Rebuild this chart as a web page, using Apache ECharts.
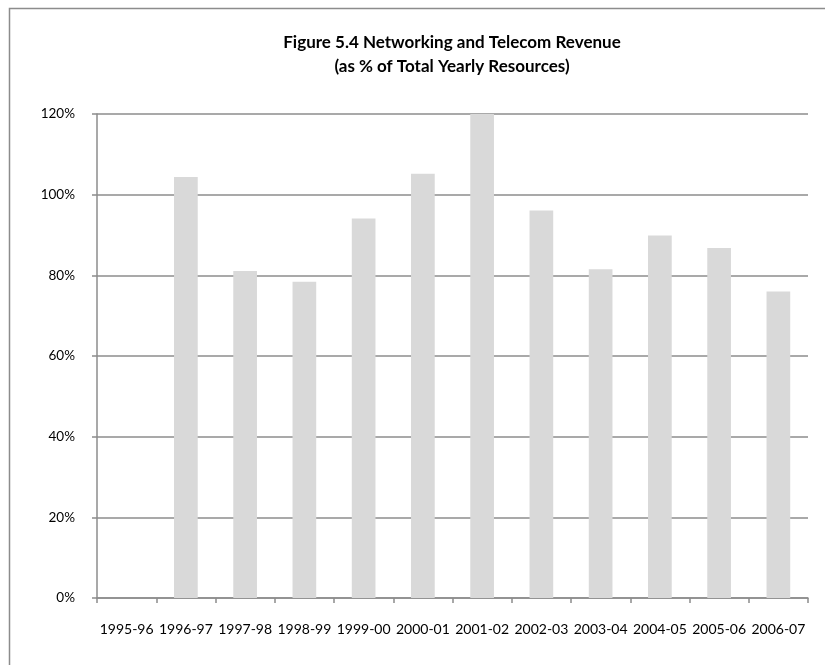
<!DOCTYPE html>
<html>
<head>
<meta charset="utf-8">
<style>
  html, body { margin: 0; padding: 0; background: #ffffff; }
  #chart { width: 825px; height: 665px; }
</style>
<script src="https://cdn.jsdelivr.net/npm/echarts@6/dist/echarts.min.js"></script>
</head>
<body>
<div id="chart"></div>
<script>
// Fiscal years shown on the category axis
const years = ['1995-96', '1996-97', '1997-98', '1998-99', '1999-00', '2000-01',
               '2001-02', '2002-03', '2003-04', '2004-05', '2005-06', '2006-07'];
// Networking and telecom revenue, percent of total yearly resources
const revenuePct = [null, 104.4, 81.1, 78.4, 94.1, 105.2, 120.0, 96.1, 81.5, 89.9, 86.8, 76.0];
// Value axis range and step (percent)
const yMin = 0, yMax = 120, yStep = 20;

const font = 'Lato, "Open Sans", "DejaVu Sans", sans-serif';
const chart = echarts.init(document.getElementById('chart'), null, { renderer: 'canvas' });

chart.setOption({
  animation: false,
  backgroundColor: '#ffffff',
  graphic: [{
    type: 'rect', silent: true,
    shape: { x: 9.5, y: 8.5, width: 830, height: 670 },
    style: { fill: 'none', stroke: '#8c8c8c', lineWidth: 1.5 }
  }, {
    // two-line chart title, centred over the plot
    type: 'text', silent: true,
    x: 452, y: 31,
    style: {
      text: 'Figure 5.4 Networking and Telecom Revenue\n(as % of Total Yearly Resources)',
      align: 'center', verticalAlign: 'top',
      font: 'bold 17px ' + font, lineHeight: 24, fill: '#000'
    }
  }],
  grid: { left: 97, right: 17, top: 114, bottom: 67, containLabel: false },
  xAxis: {
    type: 'category',
    data: years,
    axisLine: { lineStyle: { color: '#8c8c8c', width: 1.5 } },
    axisTick: { show: true, alignWithLabel: false, length: 5, lineStyle: { color: '#8c8c8c', width: 1.5 } },
    axisLabel: { interval: 0, margin: 24, color: '#000', fontFamily: font, fontSize: 14 }
  },
  yAxis: {
    type: 'value',
    min: yMin, max: yMax, interval: yStep,
    axisLine: { show: true, lineStyle: { color: '#8c8c8c', width: 1.5 } },
    axisTick: { show: true, length: 5, lineStyle: { color: '#8c8c8c', width: 1.5 } },
    axisLabel: { formatter: '{value}%', margin: 22, color: '#000', fontFamily: font, fontSize: 13.5 },
    splitLine: { lineStyle: { color: '#8c8c8c', width: 1.5 } }
  },
  series: [{
    type: 'bar',
    data: revenuePct,
    barCategoryGap: '60%',
    itemStyle: { color: '#d9d9d9' }
  }]
});
</script>
</body>
</html>
